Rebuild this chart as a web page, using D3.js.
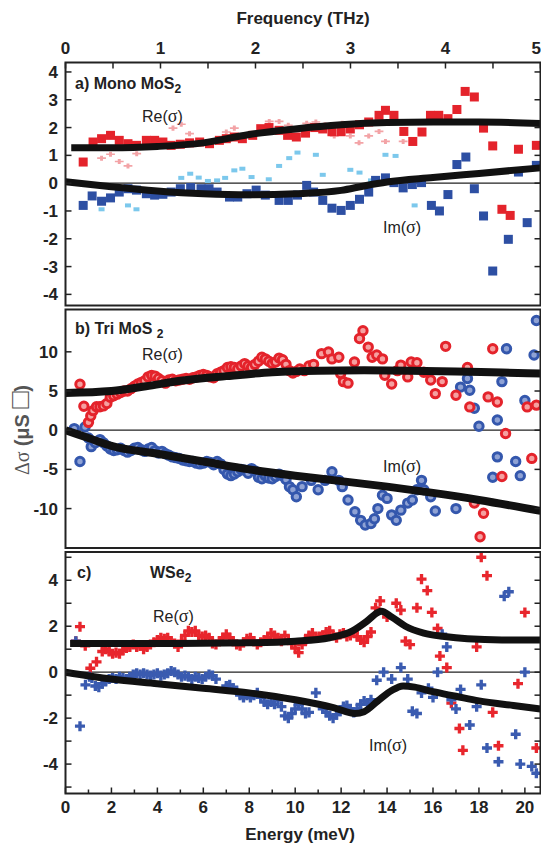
<!DOCTYPE html>
<html>
<head>
<meta charset="utf-8">
<script src="https://cdn.jsdelivr.net/npm/d3@7"></script>
<style>
  body { margin: 0; background: #fff; }
  text { font-family: "Liberation Sans", Arial, sans-serif; }
</style>
</head>
<body>
<svg width="541" height="843"></svg>
<script>
// ---- data (energy in meV, conductivity in uS) ----
const freqTicks = [0, 1, 2, 3, 4, 5];
const energyTicks = [0, 2, 4, 6, 8, 10, 12, 14, 16, 18, 20];

// a) mono MoS2
const monoRe = [[0.77,0.76],[1.2,1.48],[1.57,1.6],[1.96,1.72],[2.34,1.54],[2.72,1.42],[3.09,1.36],[3.52,1.54],[3.88,1.54],[4.24,1.48],
  [4.6,1.36],[5.0,1.4],[5.4,1.45],[5.84,1.48],[6.27,1.42],[6.7,1.54],[7.0,1.6],[7.35,1.66],[7.7,1.6],[8.15,1.72],[8.5,1.96],[8.86,2.0],
  [9.3,1.9],[9.67,1.72],[10.05,1.66],[10.45,1.8],[10.85,2.0],[11.2,1.95],[11.6,1.85],[12.0,1.85],[12.4,1.95],[12.8,2.1],[13.2,2.2],
  [13.65,2.44],[13.93,2.62],[14.3,2.44],[14.73,1.86],[15.12,1.5],[15.52,1.84],[15.89,2.44],[16.25,2.44],[16.65,2.32],[17.04,2.65],
  [17.4,3.3],[17.8,3.1],[18.2,1.98],[18.6,1.34],[19.0,-0.94],[19.36,-1.16],[19.72,1.22],[20.5,1.36]];
const monoRe2 = [[1.57,0.9],[1.96,1.04],[2.34,0.78],[2.72,0.62],[3.1,1.06],[4.68,1.98],[5.04,2.12],[5.4,1.78],[7.0,1.84],[7.35,1.98],
  [8.87,2.22],[9.3,2.22],[9.7,2.08],[10.5,2.15],[10.9,2.2],[11.3,2.1],[11.7,1.7],[12.05,2.15],[12.4,1.7],[12.78,1.45],[13.2,1.7],
  [13.65,1.86],[13.93,1.5],[14.7,1.5]];
const monoIm = [[0.77,-0.8],[1.16,-0.46],[1.57,-0.65],[1.96,-0.53],[2.34,-0.32],[2.72,-0.2],[3.09,-0.25],[3.52,-0.38],[3.88,-0.43],
  [4.24,-0.4],[4.6,-0.32],[5.0,-0.2],[5.45,-0.16],[5.9,-0.2],[6.25,-0.2],[6.6,-0.32],[7.14,-0.5],[7.5,-0.5],[7.9,-0.38],[8.3,-0.25],
  [8.7,-0.43],[9.3,-0.62],[9.7,-0.62],[10.1,-0.43],[10.5,-0.08],[10.8,-0.32],[11.2,-0.62],[11.6,-0.9],[12.0,-0.98],[12.4,-0.8],
  [12.8,-0.58],[13.2,-0.32],[13.5,0.1],[13.93,0.19],[14.3,0.02],[14.7,-0.17],[15.1,-0.05],[15.5,0.02],[15.93,-0.8],[16.28,-1.0],
  [16.65,-0.41],[17.04,0.67],[17.43,0.94],[17.8,-0.2],[18.2,-1.18],[18.6,-3.16],[19.28,-2.02],[19.72,0.4],[20.1,-1.42],[20.5,0.64]];
const monoIm2 = [[1.57,-0.94],[2.72,-0.8],[3.09,-0.94],[5.04,0.19],[5.43,0.34],[5.8,0.2],[6.2,0.08],[6.6,0.1],[6.95,0.19],[7.35,0.46],
  [7.7,0.52],[8.1,0.22],[8.85,0.14],[9.3,0.62],[9.74,0.9],[10.1,1.1],[10.9,1.02],[11.2,0.3],[12.4,0.48],[12.8,0.38],[13.3,0.1],
  [13.93,1.02],[14.37,0.98],[15.2,-0.8]];
const monoReFit = [[0.25,1.27],[2,1.27],[4,1.32],[6,1.45],[8,1.75],[10,1.95],[12,2.1],[14,2.18],[16,2.2],[18,2.2],[20.68,2.15]];
const monoImFit = [[0,0.05],[2,-0.13],[4,-0.28],[6,-0.38],[8,-0.42],[10,-0.38],[12,-0.26],[13,-0.1],[14,0.04],[16,0.2],[18,0.35],[20.68,0.55]];

// b) tri MoS2
const triRe = [[0.63,5.86],[0.8,3.06],[1.0,1.0],[1.1,1.8],[1.2,2.5],[1.35,3.0],[1.5,3.0],[1.65,3.1],[1.8,3.4],[1.95,4.2],[2.1,4.4],
  [2.25,4.6],[2.4,4.8],[2.55,5.0],[2.7,5.0],[2.85,5.3],[3.0,5.6],[3.15,5.9],[3.3,6.1],[3.45,6.3],[3.6,6.8],[3.75,7.0],[3.9,6.9],
  [4.05,6.6],[4.2,6.3],[4.35,6.0],[4.5,6.4],[4.65,6.5],[4.8,6.3],[4.95,6.4],[5.1,6.5],[5.25,6.6],[5.4,6.5],[5.55,6.7],[5.7,6.8],
  [5.85,7.0],[6.0,7.1],[6.15,7.0],[6.3,6.8],[6.45,6.7],[6.6,7.2],[6.75,7.4],[6.9,7.6],[7.05,8.0],[7.2,8.1],[7.35,8.0],[7.5,7.8],
  [7.65,8.2],[7.8,8.5],[7.95,8.2],[8.1,8.0],[8.25,8.4],[8.4,8.8],[8.55,9.3],[8.7,9.1],[8.85,8.8],[9.0,8.5],[9.15,8.7],[9.3,9.2],
  [9.45,9.0],[9.6,8.4],[9.75,7.6],[9.9,7.3],[10.05,7.5],[10.2,7.8],[10.4,7.6],[10.6,8.2],[10.8,8.4],[11.15,9.77],[11.45,9.98],
  [11.6,9.1],[11.9,9.3],[11.98,7.22],[12.1,6.2],[12.3,6.0],[12.58,8.7],[12.8,11.7],[12.95,12.7],[13.18,10.6],[13.35,9.3],[13.55,9.6],
  [13.8,9.1],[13.9,7.0],[14.2,5.9],[14.45,7.6],[14.6,8.3],[14.9,6.8],[15.05,8.7],[15.3,8.6],[15.6,7.4],[15.9,6.4],[16.1,4.67],
  [16.4,6.2],[16.55,10.7],[17.0,4.46],[17.5,8.0],[17.6,2.97],[17.8,-9.3],[18.05,-13.6],[18.2,-10.6],[18.4,4.25],[18.6,10.4],
  [18.8,3.6],[19.0,-5.9],[19.16,-0.42],[20.1,2.97],[20.3,-3.6],[20.5,3.2]];
const triIm = [[0.38,0.2],[0.63,-4.0],[0.85,0.4],[1.0,-1.0],[1.12,-2.1],[1.3,-1.6],[1.5,-1.2],[1.65,-1.6],[1.8,-2.0],[1.95,-2.4],
  [2.1,-2.6],[2.25,-2.5],[2.4,-2.3],[2.55,-2.6],[2.7,-2.8],[2.85,-2.6],[3.0,-2.3],[3.15,-2.2],[3.3,-2.5],[3.45,-2.7],[3.6,-2.4],
  [3.75,-2.2],[3.9,-2.6],[4.05,-2.9],[4.2,-2.7],[4.35,-3.0],[4.5,-3.2],[4.65,-3.4],[4.8,-3.5],[4.95,-3.6],[5.1,-3.8],[5.25,-3.9],
  [5.4,-4.0],[5.55,-4.0],[5.7,-4.2],[5.85,-4.3],[6.0,-4.2],[6.15,-4.0],[6.3,-4.1],[6.45,-4.4],[6.6,-4.0],[6.75,-4.3],[6.9,-5.0],
  [7.05,-5.6],[7.2,-5.8],[7.35,-5.6],[7.5,-5.3],[7.65,-5.0],[7.8,-5.1],[7.95,-5.5],[8.1,-4.9],[8.25,-5.2],[8.4,-6.0],[8.55,-6.2],
  [8.7,-5.8],[8.85,-6.1],[9.0,-6.2],[9.15,-5.9],[9.3,-5.6],[9.45,-5.8],[9.6,-6.3],[9.75,-7.2],[9.9,-7.6],[10.05,-8.5],[10.3,-7.2],
  [10.7,-6.4],[11.0,-7.6],[11.3,-6.4],[11.6,-5.3],[11.9,-6.4],[12.05,-7.2],[12.3,-8.9],[12.6,-10.4],[12.85,-11.5],[13.05,-12.1],
  [13.3,-11.9],[13.45,-11.3],[13.6,-10.0],[13.8,-8.3],[14.0,-8.7],[14.2,-10.8],[14.4,-11.5],[14.6,-10.2],[14.9,-9.3],[15.1,-8.9],
  [15.3,-7.6],[15.5,-6.4],[15.6,-7.6],[15.9,-8.5],[16.1,-10.3],[17.0,-10.0],[17.2,5.5],[17.5,6.6],[17.6,5.1],[17.8,2.8],[18.0,0.5],
  [18.6,-6.0],[18.8,-3.4],[18.8,1.3],[19.0,6.2],[19.2,10.4],[19.6,-4.0],[19.8,-5.8],[20.0,3.8],[20.4,9.6],[20.5,14.0]];
const triReFit = [[0,4.75],[2,5.0],[3.5,5.6],[5,6.3],[7,6.9],[9,7.4],[11,7.6],[13,7.65],[15,7.6],[17,7.5],[19,7.35],[20.68,7.25]];
const triImFit = [[0,0],[1,-1.0],[2,-2.0],[4,-3.0],[6,-4.0],[8,-5.0],[10,-5.8],[12,-6.5],[14,-7.2],[16,-8.0],[18,-8.9],[20.68,-10.3]];

// c) WSe2
const wseRe = [[0.45,1.35],[0.63,1.98],[0.86,1.15],[1.08,0.17],[1.35,0.45],[1.6,0.9],[1.75,1.0],[1.9,0.9],[2.05,0.8],[2.2,0.85],
  [2.35,0.8],[2.5,0.95],[2.65,1.05],[2.8,1.1],[2.95,1.2],[3.1,1.1],[3.25,1.15],[3.4,1.0],[3.55,1.1],[3.7,1.2],[3.85,1.3],[4.0,1.4],
  [4.15,1.5],[4.3,1.45],[4.45,1.5],[4.6,1.35],[4.75,1.25],[4.9,1.1],[5.05,1.35],[5.2,1.6],[5.35,1.8],[5.5,1.75],[5.65,1.8],[5.8,1.6],
  [5.95,1.55],[6.1,1.6],[6.25,1.5],[6.4,1.25],[6.55,1.2],[6.7,1.35],[6.85,1.5],[7.0,1.65],[7.15,1.5],[7.3,1.35],[7.45,1.2],[7.6,1.15],
  [7.75,1.3],[7.9,1.45],[8.05,1.5],[8.2,1.35],[8.35,1.2],[8.5,1.3],[8.65,1.4],[8.8,1.5],[8.95,1.7],[9.1,1.6],[9.25,1.5],[9.4,1.35],
  [9.55,1.6],[9.7,1.4],[9.85,1.25],[10.0,1.05],[10.15,0.85],[10.3,1.2],[10.45,1.4],[10.6,1.6],[10.75,1.7],[10.9,1.5],[11.05,1.55],
  [11.2,1.6],[11.35,1.75],[11.5,1.8],[11.65,1.6],[11.8,1.5],[11.95,1.65],[12.1,1.7],[12.25,1.55],[12.4,1.6],[12.55,1.75],[12.7,1.55],
  [12.85,1.4],[13.0,1.3],[13.15,1.55],[13.3,1.75],[13.5,2.8],[13.7,3.1],[14.0,2.4],[14.4,3.0],[14.6,2.7],[14.8,1.35],[15.0,1.2],
  [15.3,2.8],[15.5,4.05],[15.75,3.55],[15.95,2.6],[16.2,1.9],[16.3,0.7],[16.6,0.2],[16.8,-1.35],[17.15,-2.45],[17.3,-3.4],[17.9,1.1],
  [18.05,5.7],[18.1,5.0],[18.35,4.2],[18.6,-1.75],[18.85,-3.2],[19.7,-0.5],[20.0,2.6],[20.5,-3.3]];
const wseIm = [[0.45,1.35],[0.63,-2.35],[0.87,-0.55],[1.05,-0.2],[1.15,-0.25],[1.3,-0.6],[1.45,-0.65],[1.6,-0.5],[1.75,-0.4],
  [1.9,-0.3],[2.05,-0.25],[2.2,-0.3],[2.35,-0.2],[2.5,-0.25],[2.65,-0.3],[2.8,-0.2],[2.95,-0.1],[3.1,-0.05],[3.25,-0.1],[3.4,-0.05],
  [3.55,-0.1],[3.7,-0.15],[3.85,-0.1],[4.0,-0.05],[4.15,-0.15],[4.3,-0.1],[4.45,-0.05],[4.6,0.05],[4.75,0.0],[4.9,-0.1],[5.05,-0.2],
  [5.2,-0.15],[5.35,-0.2],[5.5,-0.3],[5.65,-0.2],[5.8,-0.25],[5.95,-0.3],[6.1,-0.2],[6.25,-0.1],[6.4,-0.15],[6.55,-0.3],[7.0,-0.6],
  [7.15,-0.55],[7.3,-0.7],[7.45,-0.8],[7.6,-1.0],[7.75,-1.1],[7.9,-1.0],[8.05,-1.1],[8.2,-1.0],[8.35,-0.9],[8.5,-1.1],[8.65,-1.3],
  [8.8,-1.4],[8.95,-1.3],[9.1,-1.4],[9.25,-1.2],[9.4,-1.5],[9.55,-1.9],[9.7,-2.0],[9.85,-1.8],[10.0,-1.6],[10.15,-1.4],[10.3,-1.6],
  [10.45,-1.8],[10.6,-1.75],[10.9,-0.9],[11.2,-1.6],[11.35,-1.75],[11.5,-1.9],[11.65,-2.0],[11.8,-1.85],[11.95,-1.7],[12.1,-1.5],
  [12.25,-1.45],[12.4,-1.6],[12.55,-1.75],[12.7,-1.6],[12.85,-1.4],[13.0,-1.25],[13.15,-1.35],[13.3,-1.2],[13.55,-0.35],[13.85,0.0],
  [14.2,-0.3],[14.6,0.2],[14.9,-0.3],[15.1,-1.7],[15.3,-1.8],[15.5,-0.9],[15.8,-0.7],[16.0,-1.1],[16.2,0.0],[16.4,1.65],[16.6,1.1],
  [16.8,-1.2],[17.0,-1.6],[17.2,-0.75],[17.6,-2.3],[17.9,-1.5],[18.1,-0.55],[18.35,-3.3],[18.85,-3.9],[19.1,3.3],[19.3,3.5],
  [19.6,-2.7],[19.8,-4.0],[20.0,0.0],[20.3,-4.1],[20.5,-4.4]];
const wseReFit = [[0.2,1.25],[4,1.25],[8,1.28],[10,1.35],[11.5,1.5],[12.5,1.8],[13.1,2.2],[13.6,2.6],[13.75,2.65],[14.2,2.4],[14.8,2.0],
  [15.6,1.7],[16.5,1.55],[17.5,1.45],[19,1.4],[20.68,1.4]];
const wseImFit = [[0,0],[2,-0.3],[4,-0.5],[6,-0.7],[8,-0.9],[10,-1.2],[11.7,-1.55],[12.6,-1.8],[13.0,-1.72],[13.6,-1.25],[14.2,-0.8],
  [14.7,-0.6],[15.2,-0.65],[16,-0.85],[17,-1.05],[18,-1.25],[19.5,-1.45],[20.68,-1.6]];

// ---- layout ----
const svg = d3.select("svg");
const red = "#e4232b", blue = "#2d4fa3";
const x = d3.scaleLinear().domain([0, 20.68]).range([65.5, 540.5]);

const panels = [
  { top: 62.5, bottom: 305.5, dom: [-4.40, 4.34], ticks: d3.range(-4, 5), labels: d3.range(-4, 5) },
  { top: 309.5, bottom: 548, dom: [-15.03, 15.4], ticks: [-10, -5, 0, 5, 10], labels: [-10, -5, 0, 5, 10] },
  { top: 552, bottom: 793.5, dom: [-5.28, 5.23], ticks: d3.range(-5, 6), labels: [-4, -2, 0, 2, 4] }
];
panels.forEach(p => { p.y = d3.scaleLinear().domain(p.dom).range([p.bottom, p.top]); });

const fitLine = y => d3.line().x(d => x(d[0])).y(d => y(d[1])).curve(d3.curveMonotoneX);

panels.forEach((p, i) => {
  const g = svg.append("g");
  const clipId = "clip" + i;
  svg.append("clipPath").attr("id", clipId).append("rect")
    .attr("x", x.range()[0]).attr("y", p.top).attr("width", x.range()[1] - x.range()[0]).attr("height", p.bottom - p.top);
  p.plot = g.append("g").attr("clip-path", `url(#${clipId})`);
  p.plot.append("line").attr("x1", x.range()[0]).attr("x2", x.range()[1])
    .attr("y1", p.y(0)).attr("y2", p.y(0)).attr("stroke", "#222").attr("stroke-width", 1.3);
  // ticks left + right, inward
  p.ticks.forEach(t => {
    [[x.range()[0], 6], [x.range()[1], -6]].forEach(([x0, d]) => {
      g.append("line").attr("x1", x0).attr("x2", x0 + d).attr("y1", p.y(t)).attr("y2", p.y(t))
        .attr("stroke", "#222").attr("stroke-width", 1.5);
    });
  });
  g.selectAll("text.yl").data(p.labels).join("text")
    .attr("x", 58).attr("y", d => p.y(d) + 6)
    .attr("text-anchor", "end").attr("font-size", 17).attr("font-weight", "bold").attr("fill", "#222")
    .text(d => d);
  p.frame = g;
});

// ---- markers ----
const a = panels[0], b = panels[1], c = panels[2];

a.plot.selectAll("rect.lb").data(monoIm2).join("rect")
  .attr("x", d => x(d[0]) - 3).attr("y", d => a.y(d[1]) - 2).attr("width", 6).attr("height", 4)
  .attr("fill", "#7cc8ec");
a.plot.selectAll("path.pk").data(monoRe2).join("path")
  .attr("transform", d => `translate(${x(d[0])},${a.y(d[1])}) scale(1.4,0.8)`)
  .attr("d", d3.symbol(d3.symbolCross, 22)).attr("fill", "#f3a3a6");
a.plot.selectAll("rect.re").data(monoRe).join("rect")
  .attr("x", d => x(d[0]) - 4.5).attr("y", d => a.y(d[1]) - 4.5).attr("width", 9).attr("height", 9).attr("fill", red);
a.plot.selectAll("rect.im").data(monoIm).join("rect")
  .attr("x", d => x(d[0]) - 4.5).attr("y", d => a.y(d[1]) - 4.5).attr("width", 9).attr("height", 9).attr("fill", blue);

b.plot.selectAll("circle.im").data(triIm).join("circle")
  .attr("cx", d => x(d[0])).attr("cy", d => b.y(d[1])).attr("r", 4.2)
  .attr("fill", "#8fa2d4").attr("stroke", "#3457ad").attr("stroke-width", 3);
b.plot.selectAll("circle.re").data(triRe).join("circle")
  .attr("cx", d => x(d[0])).attr("cy", d => b.y(d[1])).attr("r", 4.2)
  .attr("fill", "#f5a0a0").attr("stroke", red).attr("stroke-width", 3);

c.plot.selectAll("path.re").data(wseRe).join("path")
  .attr("transform", d => `translate(${x(d[0])},${c.y(d[1])})`)
  .attr("d", d3.symbol(d3.symbolCross, 56)).attr("fill", "#e8262d");
c.plot.selectAll("path.im").data(wseIm).join("path")
  .attr("transform", d => `translate(${x(d[0])},${c.y(d[1])})`)
  .attr("d", d3.symbol(d3.symbolCross, 56)).attr("fill", "#3a5bb0");

// fits
[[a, monoReFit, 7], [a, monoImFit, 7], [b, triReFit, 8], [b, triImFit, 8], [c, wseReFit, 7], [c, wseImFit, 7]]
  .forEach(([p, d, w]) => {
    p.plot.append("path").datum(d).attr("d", fitLine(p.y))
      .attr("fill", "none").attr("stroke", "#111").attr("stroke-width", w).attr("stroke-linecap", "butt");
  });

// frames on top
panels.forEach(p => {
  p.frame.append("rect").attr("x", x.range()[0]).attr("y", p.top)
    .attr("width", x.range()[1] - x.range()[0]).attr("height", p.bottom - p.top)
    .attr("fill", "none").attr("stroke", "#222").attr("stroke-width", 2);
});

// ---- top frequency axis ----
const THz = 4.1357;
d3.range(0, 5.01, 0.5).forEach(f => {
  svg.append("line").attr("x1", x(f * THz)).attr("x2", x(f * THz)).attr("y1", a.top).attr("y2", a.top + 6)
    .attr("stroke", "#222").attr("stroke-width", 1.5);
});
svg.selectAll("text.fx").data(freqTicks).join("text")
  .attr("x", d => d === 5 ? 541 : x(d * THz)).attr("y", 54)
  .attr("text-anchor", d => d === 5 ? "end" : "middle")
  .attr("font-size", 17).attr("font-weight", "bold").attr("fill", "#222").text(d => d);
svg.append("text").attr("x", 303).attr("y", 24).attr("text-anchor", "middle")
  .attr("font-size", 17).attr("font-weight", "bold").attr("fill", "#222").text("Frequency (THz)");

// ---- bottom energy axis ----
d3.range(0, 21, 1).forEach(e => {
  svg.append("line").attr("x1", x(e)).attr("x2", x(e)).attr("y1", c.bottom).attr("y2", c.bottom - (e % 2 ? 4 : 6))
    .attr("stroke", "#222").attr("stroke-width", 1.5);
});
svg.selectAll("text.ex").data(energyTicks).join("text")
  .attr("x", d => x(d)).attr("y", 813).attr("text-anchor", "middle")
  .attr("font-size", 17).attr("font-weight", "bold").attr("fill", "#222").text(d => d);
svg.append("text").attr("x", 300).attr("y", 840).attr("text-anchor", "middle")
  .attr("font-size", 17).attr("font-weight", "bold").attr("fill", "#222").text("Energy (meV)");

// ---- y label ----
const yl = svg.append("text").attr("transform", "translate(29,430) rotate(-90)")
  .attr("text-anchor", "middle").attr("font-size", 20).attr("fill", "#555");
yl.append("tspan").attr("font-family", "'Liberation Serif', serif").text("Δσ ");
yl.append("tspan").attr("font-weight", "bold").text("(μS ");
yl.append("tspan").attr("font-size", 28).text("□");
yl.append("tspan").attr("font-weight", "bold").text(")");

// ---- panel labels ----
function label(xp, yp, parts) {
  const t = svg.append("text").attr("x", xp).attr("y", yp).attr("font-size", 16).attr("font-weight", "bold").attr("fill", "#222");
  parts.forEach(([s, sub]) => {
    const ts = t.append("tspan").text(s);
    if (sub) ts.attr("font-size", 12).attr("dy", 4);
  });
}
label(75, 89, [["a) Mono MoS"], ["2", true]]);
label(75, 334, [["b) Tri MoS "], ["2", true]]);
label(77, 578, [["c)"]]);
label(150, 578, [["WSe"], ["2", true]]);

function sig(xp, yp, name) {
  const t = svg.append("text").attr("x", xp).attr("y", yp).attr("font-size", 16).attr("fill", "#222");
  t.append("tspan").text(name + "(");
  t.append("tspan").attr("font-family", "'Liberation Serif', serif").attr("font-size", 18).text("σ");
  t.append("tspan").text(")");
}
sig(142, 122, "Re");
sig(383, 233, "Im");
sig(142, 360, "Re");
sig(383, 472, "Im");
sig(153, 622, "Re");
sig(369, 751, "Im");
</script>
</body>
</html>
